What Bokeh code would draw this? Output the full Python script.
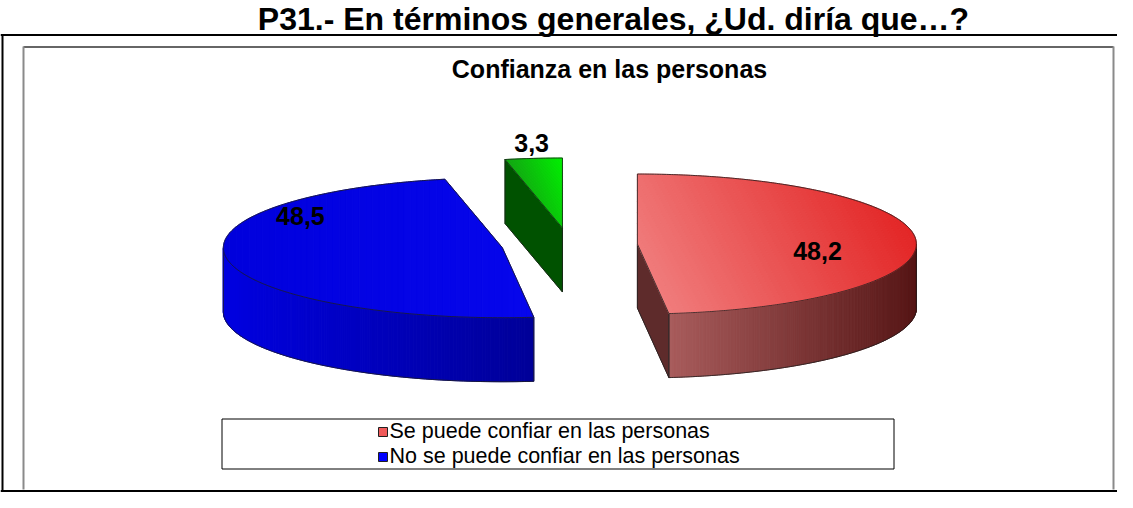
import numpy as np
from bokeh.plotting import figure
from bokeh.models import Range1d
from bokeh.core.properties import value
from bokeh.embed import file_html
from bokeh.resources import INLINE

# ---------------- data ----------------
page_title = "P31.- En términos generales, ¿Ud. diría que…?"
chart_title = "Confianza en las personas"
categories = ["Se puede confiar en las personas",
              "No se puede confiar en las personas",
              "NS/NR"]
values = [48.2, 48.5, 3.3]
value_labels = ["48,2", "48,5", "3,3"]
legend_labels = ["Se puede confiar en las personas",
                 "No se puede confiar en las personas"]

# ---------------- styles ----------------
top_colors = [("#f07c7c", "#e32626"), ("#0000dc", "#0606ec"), ("#12a412", "#00f000")]
top_dirs = [(1.0, -0.55), (1.0, 0.0), (1.0, -0.4)]
side_colors = [("#a85c5c", "#561616"), ("#0000e0", "#000098"), ("#0a7a0a", "#004400")]
cut_colors = ["#5e2b2b", "#00008a", "#005200"]
legend_colors = ["#f05a5a", "#0000ff"]
EDGE = "#1e1e1e"
FONT = value("Liberation Sans")

# ---------------- layout ----------------
W, H = 1117, 492
OX, OY = 0, 0
TDY = -8          # text baseline correction
CX0, CY0 = 569.0, 244.5
RX, RY = 279.0, 70.0
DEPTH = 64.0
EXPLODE = 68.0
label_angle = [107.8, 295.5, 354.3]
label_rfrac = [0.678, 0.802, 1.113]


def hex_rgb(h):
    h = h.lstrip("#")
    return np.array([int(h[i:i + 2], 16) for i in (0, 2, 4)], dtype=float)


def lerp_color(c0, c1, t):
    t = min(max(t, 0.0), 1.0)
    c = hex_rgb(c0) * (1 - t) + hex_rgb(c1) * t
    return "#%02x%02x%02x" % tuple(int(round(v)) for v in c)


def clip_half(poly, g, c, sign):
    out = []
    n = len(poly)
    for i in range(n):
        P = poly[i]
        Q = poly[(i + 1) % n]
        dp = sign * (P[0] * g[0] + P[1] * g[1] - c)
        dq = sign * (Q[0] * g[0] + Q[1] * g[1] - c)
        if dp >= 0:
            out.append(P)
        if (dp >= 0) != (dq >= 0):
            t = dp / (dp - dq)
            out.append((P[0] + t * (Q[0] - P[0]), P[1] + t * (Q[1] - P[1])))
    return out


p = figure(width=W, height=H,
           x_range=Range1d(OX, OX + W), y_range=Range1d(OY + H, OY),
           output_backend="svg", toolbar_location=None,
           x_axis_location=None, y_axis_location=None, min_border=0)
p.grid.visible = False
p.outline_line_color = None
p.background_fill_color = "white"
p.border_fill_color = "white"

# frames
p.segment(x0=[0, 2, 0], y0=[34.5, 34, 490.5], x1=[OX + W, 2, OX + W], y1=[34.5, 491, 490.5],
          line_color="black", line_width=2)
p.segment(x0=[23], y0=[46.5], x1=[1113], y1=[46.5], line_color="#333333", line_width=1.5)
p.segment(x0=[23, 1113], y0=[46, 46], x1=[23, 1113], y1=[489, 489], line_color="#8a8a8a", line_width=2)

# titles
p.text(x=[613], y=[26 + TDY], text=[page_title], text_font=FONT, text_font_style="bold",
       text_font_size="32px", text_align="center", text_baseline="alphabetic", text_color="black")
p.text(x=[609], y=[76 + TDY], text=[chart_title], text_font=FONT, text_font_style="bold",
       text_font_size="25px", text_align="center", text_baseline="alphabetic", text_color="black")

# ---------------- 3D exploded pie ----------------
total = float(sum(values))
bounds = np.concatenate([[0.0], np.cumsum(values)]) / total * 360.0

slices = []
for i in range(len(values)):
    a0, a1 = bounds[i], bounds[i + 1]
    mid = np.radians((a0 + a1) / 2)
    cx = CX0 + EXPLODE * np.sin(mid)
    cy = CY0 - EXPLODE * (RY / RX) * np.cos(mid)
    slices.append((i, a0, a1, cx, cy))

label_x, label_y = [], []
for (i, a0, a1, cx, cy) in sorted(slices, key=lambda s: s[4]):
    def pt(th_deg, cx=cx, cy=cy):
        th = np.radians(th_deg)
        return (cx + RX * np.sin(th), cy - RY * np.cos(th))

    fx, fy, fc = [], [], []
    ox, oy = [], []

    # cut faces
    for a, is_start in ((a0, True), (a1, False)):
        s = np.sin(np.radians(a))
        north = s if is_start else -s
        if north < -1e-6:
            P = pt(a)
            xs = [cx, P[0], P[0], cx]
            ys = [cy, P[1], P[1] + DEPTH, cy + DEPTH]
            fx.append(xs); fy.append(ys); fc.append(cut_colors[i])
            ox.append(xs + [xs[0]]); oy.append(ys + [ys[0]])

    # outer side (front half only)
    lo, hi = max(a0, 90.0), min(a1, 270.0)
    if hi > lo:
        th = np.linspace(lo, hi, int((hi - lo) / 0.5) + 2)
        pts = [pt(t) for t in th]
        xs_all = [q[0] for q in pts]
        xmin, xmax = min(xs_all), max(xs_all)
        for k in range(len(pts) - 1):
            A, B = pts[k], pts[k + 1]
            xm = (A[0] + B[0]) / 2
            t = (xm - xmin) / (xmax - xmin) if xmax > xmin else 0
            fx.append([A[0], B[0], B[0], A[0]])
            fy.append([A[1], B[1], B[1] + DEPTH, A[1] + DEPTH])
            fc.append(lerp_color(side_colors[i][0], side_colors[i][1], t))
        ox.append(xs_all); oy.append([q[1] + DEPTH for q in pts])
        for q in (pts[0], pts[-1]):
            ox.append([q[0], q[0]]); oy.append([q[1], q[1] + DEPTH])

    p.patches(xs=fx, ys=fy, fill_color=fc, line_color=fc, line_width=1)
    if ox:
        p.multi_line(xs=ox, ys=oy, line_color=EDGE, line_width=0.8)

    # top face with gradient bands
    th = np.linspace(a0, a1, int((a1 - a0) / 0.5) + 2)
    poly = [(cx, cy)] + [pt(t) for t in th]
    g = np.array(top_dirs[i]); g = g / np.linalg.norm(g)
    sv = [q[0] * g[0] + q[1] * g[1] for q in poly]
    smin, smax = min(sv), max(sv)
    nb = 48
    edges = np.linspace(smin, smax, nb + 1)
    bx, by, bc = [], [], []
    for k in range(nb):
        band = clip_half(poly, g, edges[k], 1)
        if len(band) >= 3:
            band = clip_half(band, g, edges[k + 1], -1)
        if len(band) >= 3:
            bx.append([q[0] for q in band]); by.append([q[1] for q in band])
            bc.append(lerp_color(top_colors[i][0], top_colors[i][1], (k + 0.5) / nb))
    p.patches(xs=bx, ys=by, fill_color=bc, line_color=bc, line_width=1)
    p.patch(x=[q[0] for q in poly] + [poly[0][0]], y=[q[1] for q in poly] + [poly[0][1]],
            fill_alpha=0, line_color=EDGE, line_width=0.8)

    la = np.radians(label_angle[i])
    label_x.append((i, cx + label_rfrac[i] * RX * np.sin(la)))
    label_y.append((i, cy - label_rfrac[i] * RY * np.cos(la)))

lx = [v for _, v in sorted(label_x)]
ly = [v + TDY for _, v in sorted(label_y)]
p.text(x=lx, y=ly, text=value_labels, text_font=FONT, text_font_style="bold",
       text_font_size="25px", text_align="center", text_baseline="alphabetic", text_color="black")

# ---------------- legend ----------------
p.quad(left=[221.5], right=[893.5], top=[418.5], bottom=[468.5],
       fill_color="white", line_color="black", line_width=1)
leg_y = [431.5, 456.5]
p.scatter(x=[382.5] * len(legend_labels), y=leg_y, marker="square", size=9,
          fill_color=legend_colors, line_color="#202020", line_width=1)
p.text(x=[389] * len(legend_labels), y=[v + 7 + TDY for v in leg_y], text=legend_labels,
       text_font=FONT, text_font_size="21.5px", text_align="left",
       text_baseline="alphabetic", text_color="black")

open("out.html", "w").write(file_html(p, INLINE))
